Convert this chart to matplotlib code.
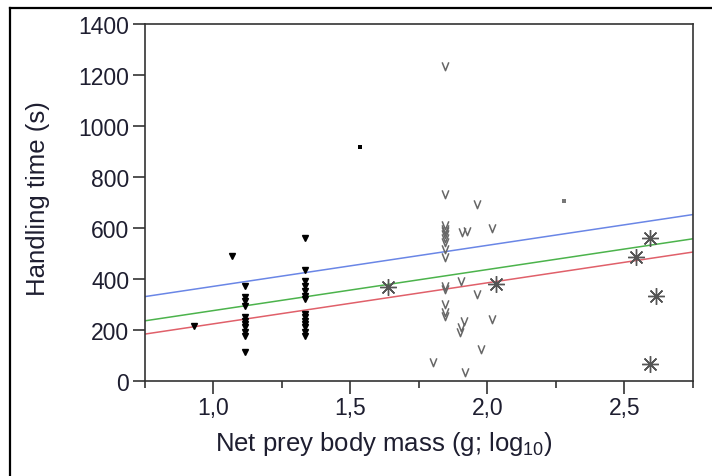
import matplotlib
matplotlib.use('Agg')
import matplotlib.pyplot as plt
from matplotlib.path import Path
from matplotlib.lines import Line2D
from matplotlib.ticker import FuncFormatter

plt.rcParams['font.family'] = ['Liberation Sans', 'DejaVu Sans']

# filled triangles (small prey)
tri_x = [0.93, 1.07] + [1.115] * 11 + [1.334] * 14
tri_y = [217, 489,
         374, 329, 314, 295, 251, 236, 224, 212, 192, 177, 114,
         560, 436, 391, 374, 354, 335, 322, 263, 250, 236, 224, 211, 192, 178]

# open "v" markers
v_x = [1.845] * 15 + [1.962, 2.018, 1.909, 1.927, 1.903, 1.962, 1.915, 1.903,
                      1.901, 2.018, 1.976, 1.803, 1.918]
v_y = [1237, 733, 612, 598, 588, 575, 560, 545, 518, 486, 374, 361, 302, 270, 256,
       694, 599, 586, 588, 393, 341, 237, 210, 191, 243, 125, 76, 34]

# asterisks
star_x = [1.637, 2.033, 2.594, 2.542, 2.615, 2.594]
star_y = [367, 380, 560, 485, 335, 67]

# single squares
sq_x = [1.534, 2.279]
sq_y = [918, 706]
sq_col = ['black', '#777777']

# regression lines (common slope)
line_slope = 161
line_icpt = [210, 115, 63]
line_col = ['#6a86e6', '#4cb34c', '#e0606a']

fig = plt.figure(figsize=(7.12, 4.77), dpi=100)
ax = fig.add_axes([144.5 / 712, 1 - 382 / 477, (693 - 144.5) / 712, (382 - 25) / 477])

xs = [0.75, 2.75]
for b, c in zip(line_icpt, line_col):
    ax.plot(xs, [b + line_slope * x for x in xs], color=c, lw=1.1, zorder=1)

v_marker = Path([(-0.8, 1), (0, -1), (0.8, 1)], [Path.MOVETO, Path.LINETO, Path.LINETO])
ax.plot(v_x, v_y, ls='none', marker=v_marker, ms=6, mfc='none', mec='#666666',
        mew=1.1, zorder=2)
ax.plot(star_x, star_y, ls='none', marker=(8, 2, 0), ms=12, mec='#555555',
        mew=1.0, zorder=2)
ax.plot(tri_x, tri_y, ls='none', marker='v', ms=5, color='black', zorder=3)
for x, y, c in zip(sq_x, sq_y, sq_col):
    ax.plot([x], [y], ls='none', marker='s', ms=3, color=c, mew=0, zorder=3)

ax.set_xlim(0.75, 2.75)
ax.set_ylim(0, 1400)
ax.set_xticks([1.0, 1.5, 2.0, 2.5])
ax.set_xticks([0.75, 1.25, 1.75, 2.25, 2.75], minor=True)
ax.set_yticks(range(0, 1401, 200))
ax.xaxis.set_major_formatter(FuncFormatter(lambda v, p: f'{v:.1f}'.replace('.', ',')))

for s in ax.spines.values():
    s.set_linewidth(1.2)
    s.set_color('#333333')
ax.tick_params(which='major', direction='out', length=9, width=1.2, color='#333333',
               labelsize=16.5, labelcolor='#1e1e30', pad=2)
ax.tick_params(which='minor', direction='out', length=5, width=1.2, color='#333333')
ax.tick_params(top=False, right=False)

ax.set_xlabel('Net prey body mass (g; log$_{\\mathregular{10}}$)', fontsize=18.5,
              color='#1e1e30')
ax.xaxis.set_label_coords(0.437, -0.135)
ax.set_ylabel('Handling time (s)', fontsize=18.5, color='#1e1e30')
ax.yaxis.set_label_coords(-0.172, 0.515)

# outer frame
fig.add_artist(Line2D([10 / 712, 10 / 712], [0, 1 - 9 / 477], color='black', lw=1.6,
                      transform=fig.transFigure))
fig.add_artist(Line2D([10 / 712, 1], [1 - 9 / 477, 1 - 9 / 477], color='black', lw=1.6,
                      transform=fig.transFigure))

fig.savefig('out.png', dpi=100)
